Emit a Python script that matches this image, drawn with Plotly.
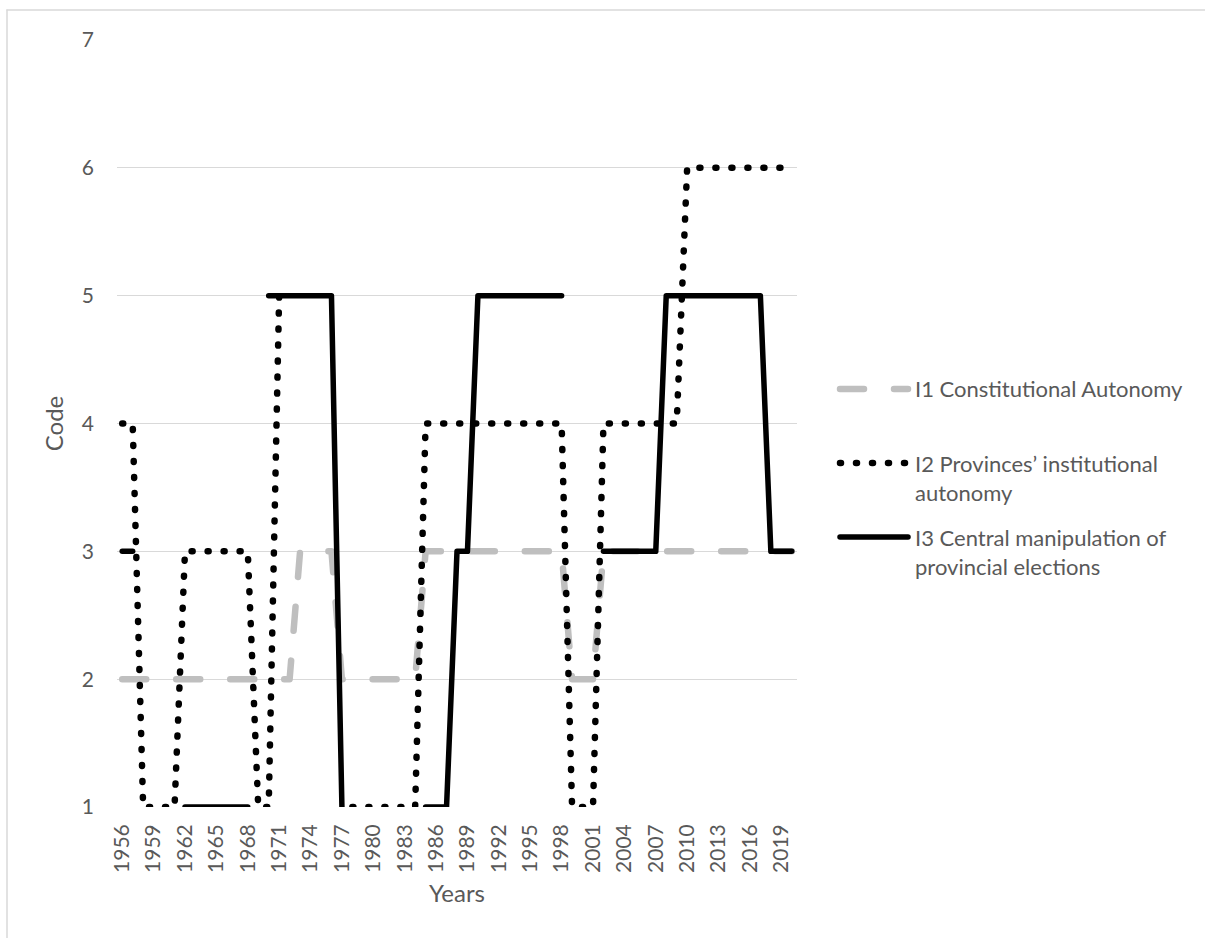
import plotly.graph_objects as go

# ---- data -------------------------------------------------------------
years = [1956, 1957, 1958, 1959, 1960, 1961, 1962, 1963, 1964, 1965,
         1966, 1967, 1968, 1969, 1970, 1971, 1972, 1973, 1974, 1975,
         1976, 1977, 1978, 1979, 1980, 1981, 1982, 1983, 1984, 1985,
         1986, 1987, 1988, 1989, 1990, 1991, 1992, 1993, 1994, 1995,
         1996, 1997, 1998, 1999, 2000, 2001, 2002, 2003, 2004, 2005,
         2006, 2007, 2008, 2009, 2010, 2011, 2012, 2013, 2014, 2015,
         2016, 2017, 2018, 2019, 2020]

i1_constitutional = [2, 2, 2, 2, 2, 2, 2, 2, 2, 2,
                     2, 2, 2, 2, 2, 2, 2, 3, 3, 3,
                     3, 2, 2, 2, 2, 2, 2, 2, 2, 3,
                     3, 3, 3, 3, 3, 3, 3, 3, 3, 3,
                     3, 3, 3, 2, 2, 2, 3, 3, 3, 3,
                     3, 3, 3, 3, 3, 3, 3, 3, 3, 3,
                     3, 3, 3, 3, 3]

i2_institutional = [4, 4, 1, 1, 1, 1, 3, 3, 3, 3,
                    3, 3, 3, 1, 1, 5, None, None, None, None,
                    None, None, 1, 1, 1, 1, 1, 1, 1, 4,
                    4, 4, 4, 4, 4, 4, 4, 4, 4, 4,
                    4, 4, 4, 1, 1, 1, 4, 4, 4, 4,
                    4, 4, 4, 4, 6, 6, 6, 6, 6, 6,
                    6, 6, 6, 6, None]

i3_manipulation = [3, 3, None, None, None, None, 1, 1, 1, 1,
                   1, 1, 1, None, 5, 5, 5, 5, 5, 5,
                   5, 1, None, None, None, None, None, None, None, 1,
                   1, 1, 3, 3, 5, 5, 5, 5, 5, 5,
                   5, 5, 5, None, None, None, 3, 3, 3, 3,
                   3, 3, 5, 5, 5, 5, 5, 5, 5, 5,
                   5, 5, 3, 3, 3]

series_names = ["I1 Constitutional Autonomy",
                "I2 Provinces\u2019 institutional<br>autonomy",
                "I3 Central manipulation of<br>provincial elections"]

tick_years = years[::3]
y_ticks = [1, 2, 3, 4, 5, 6, 7]

# ---- styling ----------------------------------------------------------
FONT = "Lato"
TXT = "#595959"
GRID = "#D9D9D9"
W, H = 1205, 938
L, R, T, B = 117, 408, 40, 131
PW, PH = W - L - R, H - T - B


def px_x(p):
    return (p - L) / PW


def px_y(p):
    return (H - B - p) / PH


styles = [
    dict(color="#BFBFBF", width=6.5, dash="24px,30px"),
    dict(color="#000000", width=6.5, dash="1px,15px"),
    dict(color="#000000", width=5.5, dash="solid"),
]

fig = go.Figure()
for name, vals, st in zip(series_names,
                          [i1_constitutional, i2_institutional, i3_manipulation],
                          styles):
    fig.add_trace(go.Scatter(
        x=years, y=vals, mode="lines", name=name.replace("<br>", " "),
        line=st, connectgaps=False, showlegend=False, hoverinfo="skip"))

# ---- custom legend (long samples, like the original) -----------------
legend_rows = [389, 463, 537]          # sample line centre (px)
text_mid = [389, 477.5, 552]          # text block centre (px)
shapes = []
annotations = []
for name, st, ly, ty in zip(series_names, styles, legend_rows, text_mid):
    shapes.append(dict(type="line", xref="paper", yref="paper",
                       x0=px_x(840), x1=px_x(908), y0=px_y(ly), y1=px_y(ly),
                       line=st))
    annotations.append(dict(text=name, xref="paper", yref="paper",
                            x=px_x(913), y=px_y(ty), xanchor="left",
                            yanchor="middle", align="left", showarrow=False,
                            font=dict(family=FONT, size=22, color=TXT)))

# chart-area border (left and top edges visible in the crop)
shapes.append(dict(type="line", xref="paper", yref="paper",
                   x0=px_x(7), x1=px_x(7), y0=px_y(10), y1=px_y(H + 5),
                   line=dict(color=GRID, width=1.5)))
shapes.append(dict(type="line", xref="paper", yref="paper",
                   x0=px_x(7), x1=px_x(W + 5), y0=px_y(10), y1=px_y(10),
                   line=dict(color=GRID, width=1.5)))

fig.update_layout(
    width=W, height=H, autosize=False,
    margin=dict(l=L, r=R, t=T, b=B, pad=0),
    paper_bgcolor="white", plot_bgcolor="white",
    font=dict(family=FONT, size=21, color=TXT),
    shapes=shapes, annotations=annotations,
    showlegend=False,
    xaxis=dict(range=[1955.5, 2020.5], tickmode="array", tickvals=tick_years,
               ticktext=[str(y) for y in tick_years], tickangle=-90,
               showgrid=False, zeroline=False, showline=False, ticks="",
               ticklabelstandoff=12,
               tickfont=dict(family=FONT, size=21, color=TXT),
               title=dict(text="Years", standoff=13,
                          font=dict(family=FONT, size=24, color=TXT))),
    yaxis=dict(range=[1, 7], tickmode="array", tickvals=y_ticks,
               showgrid=True, gridcolor=GRID, gridwidth=1.3,
               zeroline=False, showline=False, ticks="",
               ticklabelstandoff=22,
               tickfont=dict(family=FONT, size=21, color=TXT),
               title=dict(text="Code", standoff=11,
                          font=dict(family=FONT, size=24, color=TXT))),
)

post = """
var st = document.createElement('style');
st.innerHTML = 'body{margin:0;overflow:hidden;} .js-line, .shapelayer path {stroke-linecap: round !important; stroke-linejoin: round !important;}';
document.head.appendChild(st);
"""

fig.write_html("out.html", post_script=post, config={"displayModeBar": False})
